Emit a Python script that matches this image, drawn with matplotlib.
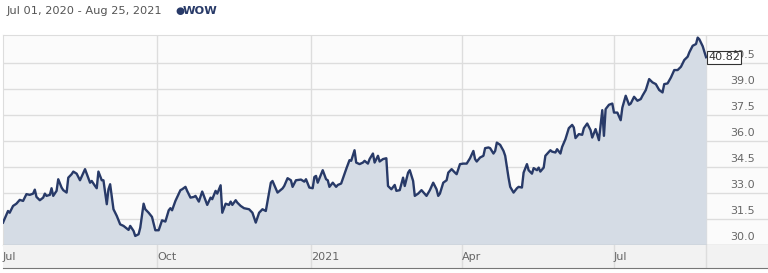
import matplotlib
matplotlib.use("Agg")
import matplotlib.pyplot as plt
import pandas as pd

# closing prices (days counted from 2020-07-01)
START = "2020-07-01"
day_offsets = [
    0, 3, 4, 6, 8, 10, 12, 14, 16, 18, 19, 20, 22, 24, 25, 26, 28, 29, 30, 32,
    33, 35, 36, 38, 39, 41, 42, 44, 46, 49, 50, 52, 53, 55, 56, 57, 59, 60, 62, 63,
    64, 66, 68, 70, 72, 75, 76, 78, 79, 81, 82, 84, 85, 87, 89, 91, 93, 95, 97, 99,
    100, 101, 103, 106, 107, 109, 110, 112, 114, 115, 117, 119, 120, 122, 124, 125, 127, 128, 130, 131,
    133, 135, 136, 137, 139, 140, 142, 144, 147, 149, 151, 153, 155, 157, 160, 161, 164, 165, 167, 168,
    170, 172, 173, 175, 178, 180, 181, 183, 185, 186, 187, 188, 190, 191, 193, 194, 195, 197, 199, 200,
    202, 205, 207, 208, 210, 211, 213, 215, 216, 218, 219, 221, 222, 224, 225, 227, 229, 230, 232, 234,
    235, 237, 239, 240, 242, 243, 245, 246, 248, 250, 253, 255, 257, 259, 260, 261, 263, 265, 266, 268,
    270, 271, 273, 275, 277, 279, 281, 282, 283, 285, 287, 288, 290, 291, 293, 294, 295, 297, 299, 300,
    302, 303, 305, 307, 308, 310, 311, 313, 314, 316, 317, 319, 320, 321, 323, 324, 327, 328, 330, 331,
    333, 334, 336, 338, 340, 341, 342, 344, 346, 347, 349, 351, 352, 354, 356, 358, 359, 360, 362, 364,
    365, 367, 369, 370, 372, 374, 375, 377, 379, 381, 382, 384, 386, 388, 390, 392, 394, 395, 397, 399,
    401, 403, 405, 407, 409, 410, 412, 414, 415, 416, 418, 420,
]
prices = [
    31.29, 31.96, 31.86, 32.25, 32.38, 32.60, 32.54, 32.93, 32.89, 32.96, 33.19, 32.77, 32.58, 32.73, 32.96, 32.83, 32.89, 33.27, 32.83, 33.12,
    33.79, 33.31, 33.16, 33.02, 33.88, 34.08, 34.23, 34.11, 33.73, 34.37, 34.11, 33.59, 33.69, 33.40, 33.27, 34.23, 33.73, 33.73, 32.35, 33.21,
    33.50, 32.06, 31.67, 31.19, 31.10, 30.87, 31.10, 30.81, 30.52, 30.62, 31.00, 32.38, 32.06, 31.86, 31.62, 30.85, 30.85, 31.42, 31.35, 32.00,
    32.12, 32.00, 32.54, 33.16, 33.21, 33.35, 33.12, 32.73, 32.77, 32.83, 32.50, 33.08, 32.83, 32.31, 32.73, 32.64, 33.12, 32.96, 33.44, 31.86,
    32.38, 32.31, 32.50, 32.31, 32.58, 32.44, 32.25, 32.12, 32.06, 31.86, 31.29, 31.86, 32.06, 31.96, 33.59, 33.69, 33.02, 33.10, 33.26, 33.40,
    33.85, 33.73, 33.35, 33.73, 33.77, 33.65, 33.79, 33.31, 33.27, 33.92, 33.98, 33.59, 34.08, 34.31, 33.79, 33.73, 33.35, 33.59, 33.35, 33.46,
    33.54, 34.37, 34.89, 34.85, 35.46, 34.75, 34.66, 34.75, 34.85, 34.69, 34.95, 35.27, 34.75, 35.14, 34.81, 34.95, 35.00, 33.40, 33.21, 33.46,
    33.12, 33.16, 33.88, 33.40, 34.17, 34.31, 33.69, 32.83, 32.96, 33.16, 32.83, 33.16, 33.59, 33.21, 32.83, 32.96, 33.59, 33.73, 34.17, 34.37,
    34.17, 34.08, 34.66, 34.69, 34.69, 35.00, 35.42, 34.95, 34.81, 35.04, 35.14, 35.58, 35.62, 35.58, 35.27, 35.42, 35.90, 35.77, 35.42, 35.14,
    33.88, 33.35, 33.02, 33.27, 33.35, 33.31, 34.17, 34.66, 34.31, 34.11, 34.43, 34.31, 34.46, 34.23, 34.46, 35.14, 35.46, 35.38, 35.33, 35.52,
    35.27, 35.65, 36.10, 36.73, 36.92, 36.77, 36.16, 36.39, 36.35, 36.73, 37.00, 36.62, 36.19, 36.68, 36.04, 37.77, 36.29, 37.83, 38.08, 38.15,
    37.63, 37.63, 37.19, 37.92, 38.60, 38.08, 38.15, 38.54, 38.31, 38.41, 38.60, 38.93, 39.56, 39.37, 39.27, 38.93, 38.79, 39.27, 39.31, 39.65,
    40.08, 40.08, 40.27, 40.66, 40.85, 41.10, 41.48, 41.58, 41.95, 41.85, 41.45, 40.82,
]
assert len(day_offsets) == len(prices)

y_ticks = [30.0, 31.5, 33.0, 34.5, 36.0, 37.5, 39.0, 40.5]
x_tick_dates = ["2020-07-01", "2020-10-01", "2021-01-01", "2021-04-01", "2021-07-01"]
x_tick_labels = ["Jul", "Oct", "2021", "Apr", "Jul"]
ticker = "WOW"
range_text = "Jul 01, 2020 - Aug 25, 2021"

LINE = "#283a68"
FILL = "#d5dce5"
GRID = "#dddddd"
TXT = "#666666"

dates = pd.Timestamp(START) + pd.to_timedelta(day_offsets, unit="D")
x_end = pd.Timestamp(START) + pd.Timedelta(days=457)
x_ticks = pd.to_datetime(x_tick_dates)

W, H = 768, 273
fig = plt.figure(figsize=(W / 100, H / 100), dpi=100)
fig.patch.set_facecolor("white")

# main price panel
ax = fig.add_axes([3 / W, 28 / H, 765 / W, 210 / H])
ax.set_facecolor("#fbfbfb")
ax.set_xlim(pd.Timestamp(START), x_end)
ax.set_ylim(30.0, 42.1)
for y in y_ticks:
    ax.axhline(y, color=GRID, lw=1, zorder=0)
for xt in list(x_ticks[1:]) + [dates[-1]]:
    ax.axvline(xt, color=GRID, lw=1, zorder=0)
ax.fill_between(dates, prices, 30.0, color=FILL, lw=0, zorder=1)
ax.plot(dates, prices, color=LINE, lw=1.7, zorder=3, solid_joinstyle="round")
ax.set_xticks([])
ax.set_yticks([])
for s in ["top", "left"]:
    ax.spines[s].set_color(GRID)
ax.spines["right"].set_visible(False)
ax.spines["bottom"].set_color("#777777")

# price labels on the right, sitting just above their gridlines
for y in y_ticks:
    ax.annotate(f"{y:.1f}", xy=(1.0, y), xycoords=("axes fraction", "data"),
                xytext=(-9.5, 2), textcoords="offset points",
                ha="right", va="bottom", fontsize=8, color=TXT)

ax.annotate(f"{prices[-1]:.2f}", xy=(dates[-1], prices[-1]), xytext=(1.5, 0),
            textcoords="offset points", ha="left", va="center", fontsize=8,
            color="#333333", zorder=5,
            bbox=dict(boxstyle="square,pad=0.12", fc="white", ec="#333333", lw=0.8))

# date band below
bx = fig.add_axes([3 / W, 5 / H, 765 / W, 23 / H])
bx.set_facecolor("#f2f2f2")
bx.set_xlim(pd.Timestamp(START), x_end)
bx.set_ylim(0, 1)
for xt in list(x_ticks[1:]) + [dates[-1]]:
    bx.axvline(xt, color=GRID, lw=1)
for xt, lab in zip(x_ticks, x_tick_labels):
    bx.text(xt, 0.5, lab, ha="left", va="center", fontsize=8, color=TXT)
bx.set_xticks([])
bx.set_yticks([])
for s in ["top", "left", "right"]:
    bx.spines[s].set_visible(False)
bx.spines["bottom"].set_color("#777777")

# header
fig.text(7 / W, 1 - 11 / H, range_text, ha="left", va="center", fontsize=8.2, color="#555555")
fig.text(175 / W, 1 - 11 / H, "\u25cf", ha="left", va="center", fontsize=7.5, color=LINE)
fig.text(183 / W, 1 - 11 / H, ticker, ha="left", va="center", fontsize=8.2,
         color=LINE, fontweight="bold")

fig.savefig("out.png", dpi=100)
